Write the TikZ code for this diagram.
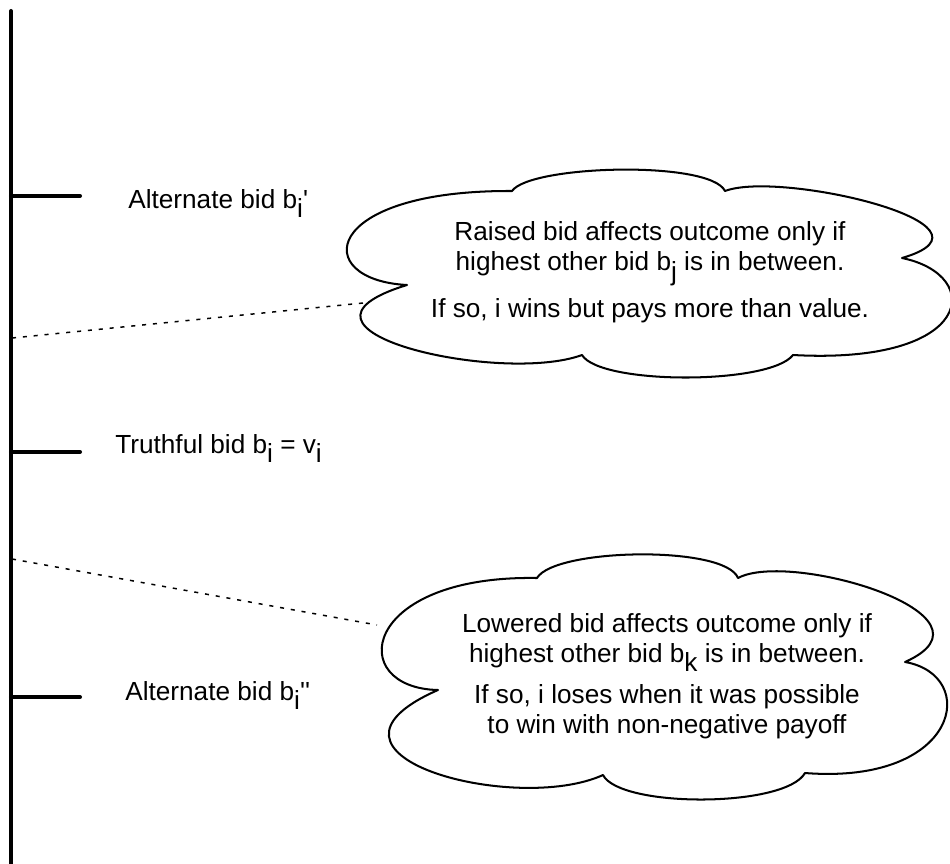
\documentclass[tikz,border=0pt]{standalone}
\usepackage{fontspec}
\setmainfont{Liberation Sans}[Ligatures=TeXOff]
\usetikzlibrary{calc}
\newcommand{\lowsub}[1]{\raisebox{-0.37em}{#1}}

\begin{document}
\begin{tikzpicture}[
    axis/.style={line width=2.3pt, line cap=round},
    bidtick/.style={line width=2.3pt, line cap=round},
    bidlabel/.style={anchor=base west, inner sep=0pt, font=\fontsize{14.9}{17}\selectfont},
    puff/.style={line width=1.15pt, line join=round, line cap=round},
    note/.style={align=center, inner sep=0pt, font=\fontsize{14.9}{17}\selectfont},
    hint/.style={line width=0.85pt, dash pattern=on 2.3pt off 3.9pt}]
    \useasboundingbox (0,0) rectangle (19,-17.26);

    % bid axis with the three bids
    \coordinate (top) at (0.22,-0.22);
    \coordinate (bottom) at (0.22,-17.6);
    \draw[axis] (top) -- (bottom);

    \coordinate (raiseB) at (0.22,-3.92);
    \coordinate (truthB) at (0.22,-9.04);
    \coordinate (lowerB) at (0.22,-13.94);
    \draw[bidtick] (raiseB) -- ++(1.38,0);
    \draw[bidtick] (truthB) -- ++(1.38,0);
    \draw[bidtick] (lowerB) -- ++(1.38,0);

    \node[bidlabel] (raiseL) at (2.56,-4.16) {Alternate bid b\lowsub{i}'};
    \node[bidlabel] (truthL) at (2.3,-9.06) {Truthful bid b\lowsub{i} = v\lowsub{i}};
    \node[bidlabel] (lowerL) at (2.5,-14.0) {Alternate bid b\lowsub{i}''};

    % upper cloud
    \draw[puff] (8.14,-5.7) .. controls (6.2,-5.6) and (6.4,-3.8) .. (10.24,-3.82)
        .. controls (10.6,-3.3) and (14.2,-3.2) .. (14.5,-3.82)
        .. controls (15.6,-3.4) and (20.3,-4.5) .. (18.04,-5.16)
        .. controls (19.7,-5.5) and (19.5,-7.3) .. (15.86,-7.1)
        .. controls (15.4,-7.7) and (12.0,-7.7) .. (11.64,-7.1)
        .. controls (10.0,-7.7) and (5.2,-6.6) .. (8.14,-5.7);
    \node[note] (raised) at (13.0,-5.45) {Raised bid affects outcome only if\\
        highest other bid b\lowsub{j} is in between.\\[6.3pt]
        If so, i wins but pays more than value.};

    % lower cloud
    \draw[puff] (8.76,-13.8) .. controls (6.9,-13.76) and (7.2,-11.5) .. (10.74,-11.56)
        .. controls (11.1,-10.96) and (14.5,-10.9) .. (14.76,-11.56)
        .. controls (15.8,-11.0) and (20.2,-12.3) .. (18.1,-13.24)
        .. controls (19.6,-13.5) and (19.2,-15.7) .. (16.1,-15.46)
        .. controls (15.7,-16.16) and (12.4,-16.16) .. (12.06,-15.5)
        .. controls (10.3,-16.3) and (5.8,-15.1) .. (8.76,-13.8);
    \node[note] (lowered) at (13.34,-13.52) {Lowered bid affects outcome only if\\
        highest other bid b\lowsub{k} is in between.\\[6.3pt]
        If so, i loses when it was possible\\
        to win with non-negative payoff};

    % dotted hints from the axis to the clouds
    \coordinate (raiseFoot) at (0.24,-6.76);
    \coordinate (raiseTip) at (7.26,-6.06);
    \coordinate (lowerFoot) at (0.24,-11.18);
    \coordinate (lowerTip) at (7.54,-12.5);
    \draw[hint] (raiseFoot) -- (raiseTip);
    \draw[hint] (lowerFoot) -- (lowerTip);
\end{tikzpicture}
\end{document}
